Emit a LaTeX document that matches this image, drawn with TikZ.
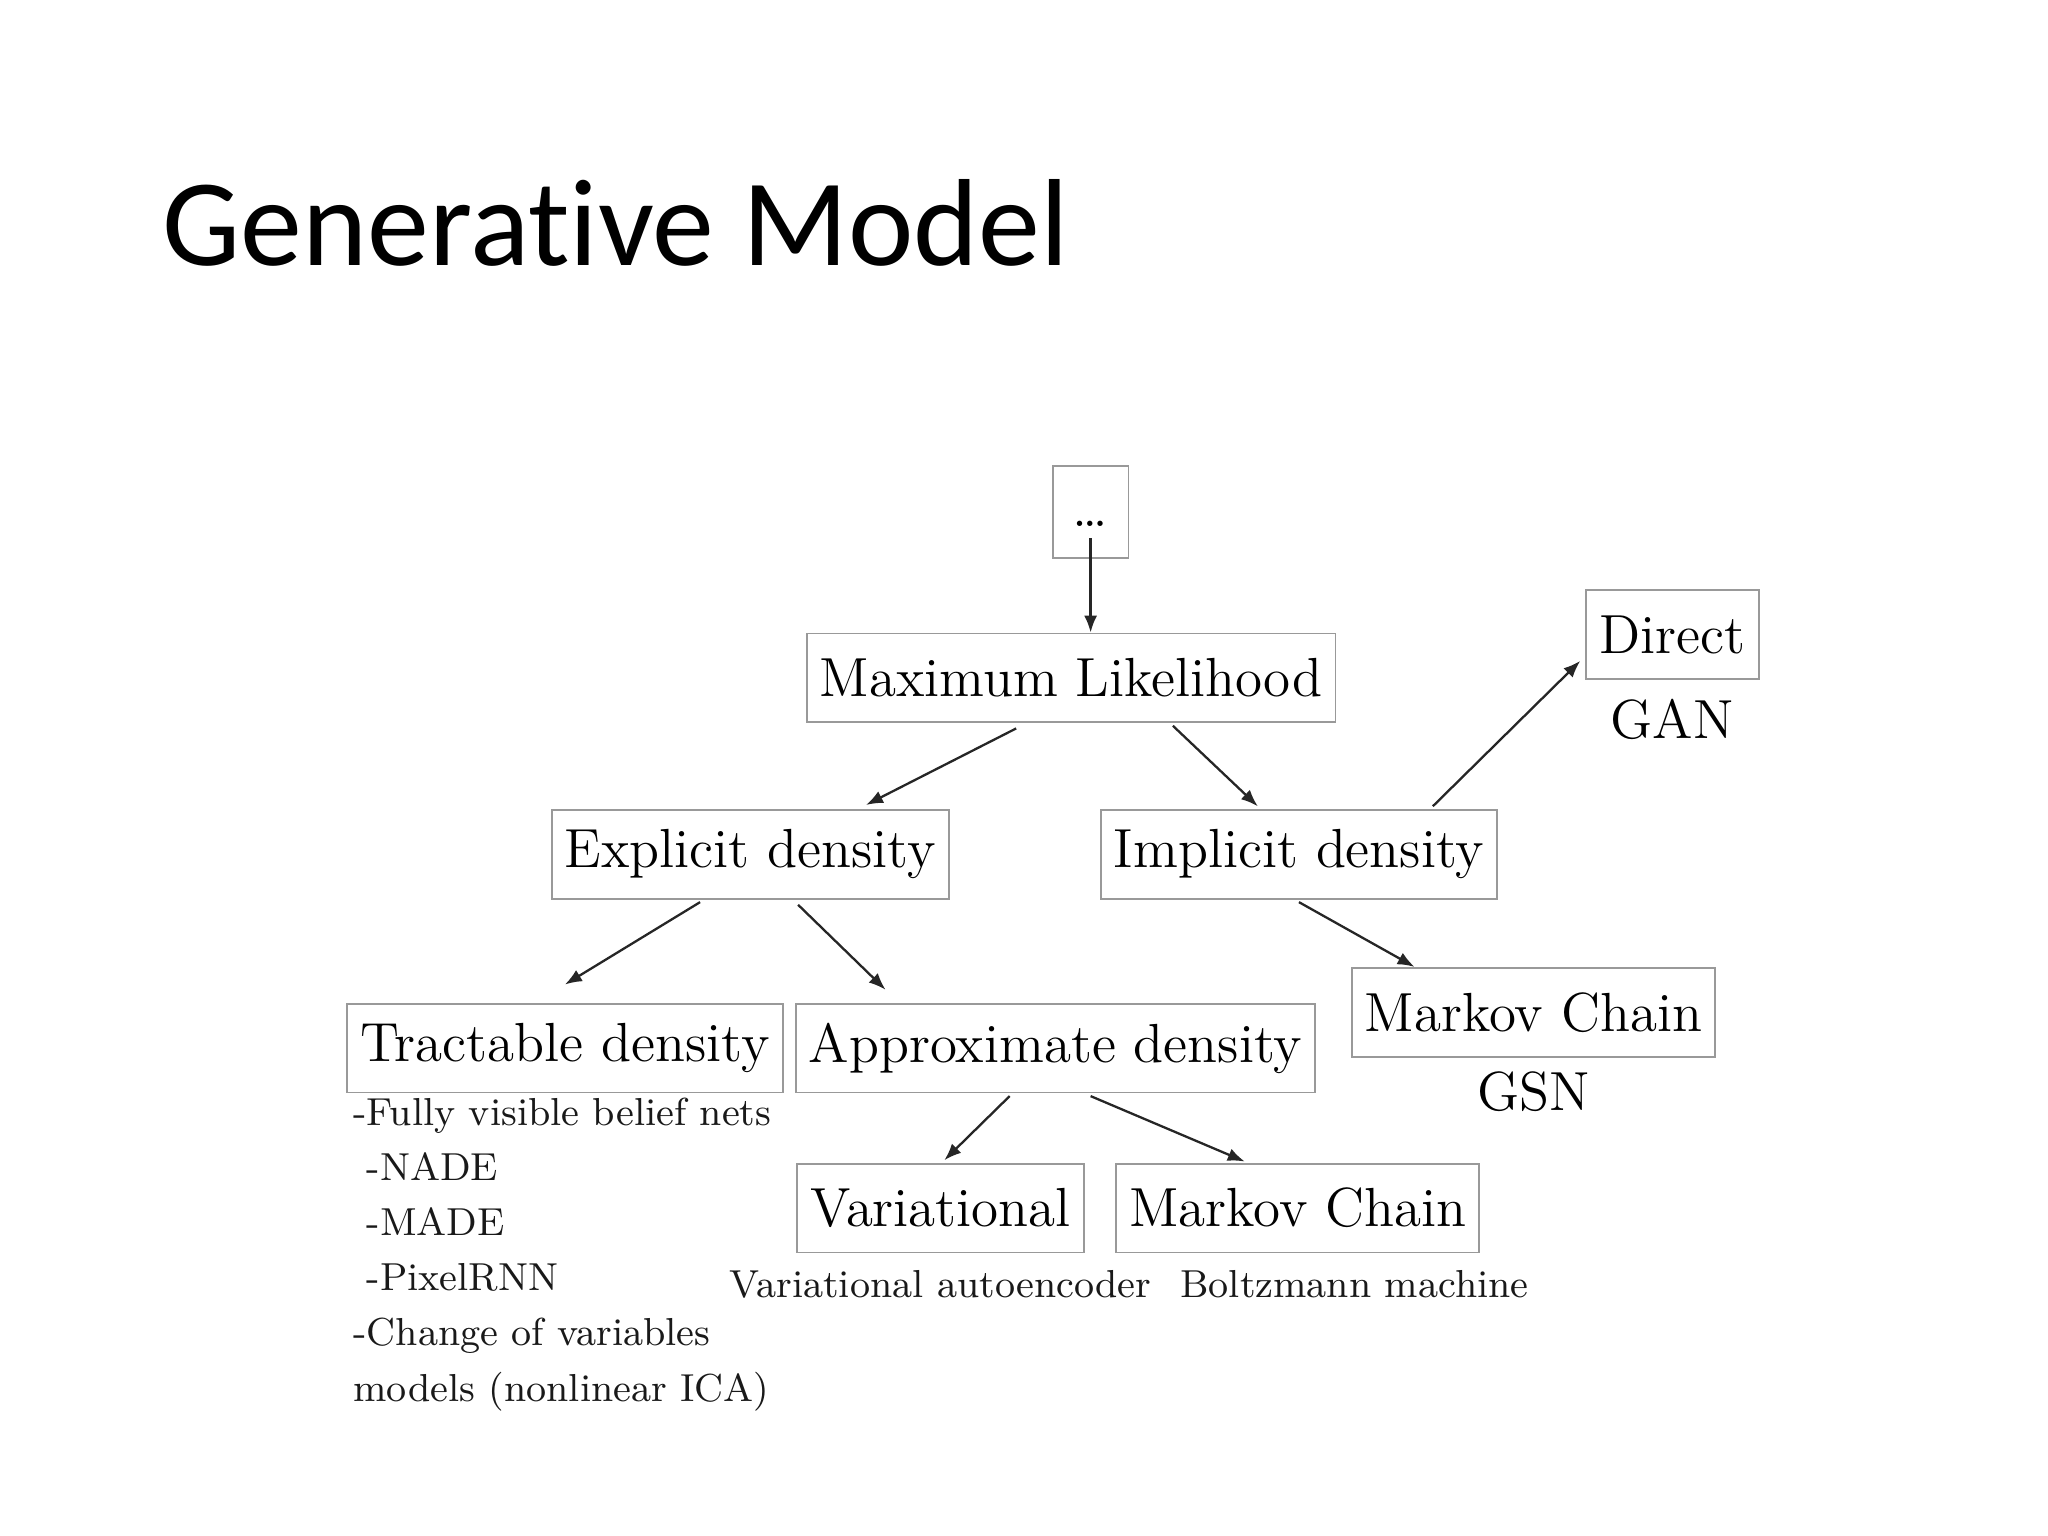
\documentclass[tikz,border=0pt]{standalone}
\usepackage{fontspec}
\newfontfamily\titlefont[Ligatures=NoCommon]{Carlito}
\usetikzlibrary{arrows.meta}
\begin{document}
\begin{tikzpicture}[
    box/.style={draw=black!40, line width=0.4pt, inner xsep=1mm, minimum height=6.8mm,
                font=\fontsize{12}{14}\selectfont, text=black},
    note/.style={font=\fontsize{8.5}{12}\selectfont, text=black!90, inner sep=0pt},
    arr/.style={-{Latex[length=1.3mm,width=1mm]}, line width=0.5pt, draw=black!85}]
    \useasboundingbox (0,0) rectangle (15.68,-11.76);
    % title
    \node[anchor=base west, font=\titlefont\fontsize{27}{30}\selectfont] (title) at (1.12,-2.03) {Generative Model};
    % boxes
    \node[box, minimum width=5.8mm, minimum height=7mm] (dots) at (8.35,-3.92) {\raisebox{-1.1mm}[0pt][0pt]{\dots}};
    \node[box] (ml) at (8.20,-5.19) {Maximum Likelihood};
    \node[box] (expl) at (5.745,-6.54) {Explicit density};
    \node[box] (impl) at (9.945,-6.54) {Implicit density};
    \node[box] (direct) at (12.805,-4.86) {Direct};
    \node[box] (tract) at (4.325,-8.025) {Tractable density};
    \node[box] (approx) at (8.08,-8.025) {Approximate density};
    \node[box] (mc1) at (11.74,-7.75) {Markov Chain};
    \node[box] (var) at (7.20,-9.25) {Variational};
    \node[box] (mc2) at (9.935,-9.25) {Markov Chain};
    % labels under the boxes
    \node[font=\fontsize{12}{14}\selectfont] (gan) at (12.80,-5.51) {GAN};
    \node[font=\fontsize{12}{14}\selectfont] (gsn) at (11.74,-8.36) {GSN};
    \node[note] (vae) at (7.20,-9.83) {Variational autoencoder};
    \node[note] (bm) at (10.37,-9.83) {Boltzmann machine};
    \node[note, anchor=north west, align=left] (list) at (2.70,-8.40) {-Fully visible belief nets\\
        \hspace*{1mm}-NADE\\
        \hspace*{1mm}-MADE\\
        \hspace*{1mm}-PixelRNN\\
        -Change of variables\\
        models (nonlinear ICA)};
    % arrows
    \draw[arr] ([yshift=-2mm]dots.center) -- (dots.center |- ml.north);
    \draw[arr] ([xshift=-4.2mm,yshift=-0.4mm]ml.south) -- ([xshift=8.85mm,yshift=0.3mm]expl.north);
    \draw[arr] ([xshift=7.8mm,yshift=-0.2mm]ml.south) -- ([xshift=-3.15mm,yshift=0.2mm]impl.north);
    \draw[arr] ([xshift=10.25mm,yshift=0.2mm]impl.north) -- ([xshift=-0.4mm,yshift=-2mm]direct.west);
    \draw[arr] ([xshift=-3.85mm,yshift=-0.2mm]expl.south) -- ([yshift=1.4mm]tract.north);
    \draw[arr] ([xshift=3.65mm,yshift=-0.4mm]expl.south) -- ([xshift=-13mm,yshift=1mm]approx.north);
    \draw[arr] ([yshift=-0.2mm]impl.south) -- ([xshift=-9.1mm]mc1.north);
    \draw[arr] ([xshift=-3.5mm,yshift=-0.2mm]approx.south) -- ([xshift=0.3mm,yshift=0.2mm]var.north);
    \draw[arr] ([xshift=2.7mm,yshift=-0.2mm]approx.south) -- ([xshift=-4.05mm,yshift=0.1mm]mc2.north);
\end{tikzpicture}
\end{document}
